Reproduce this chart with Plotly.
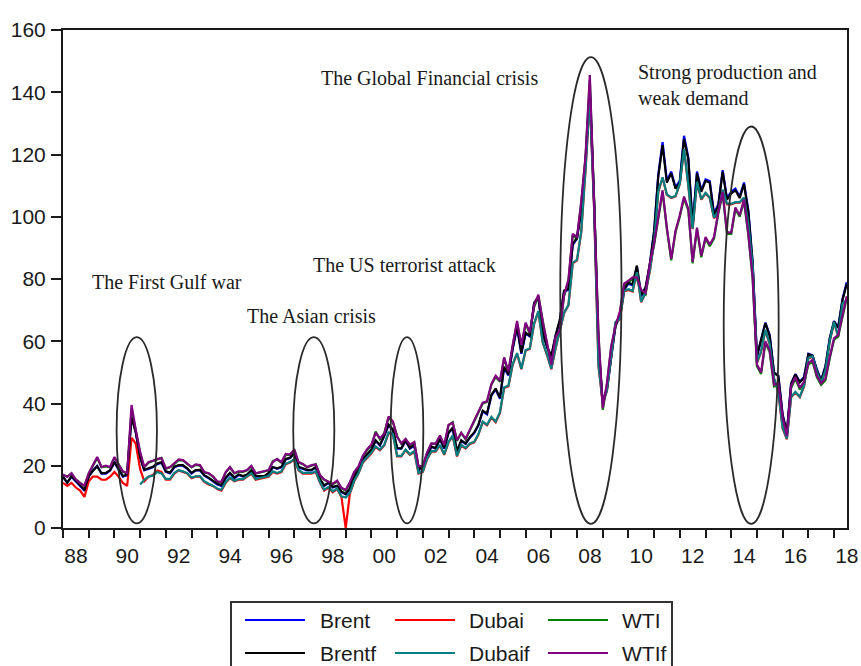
import pandas as pd
import plotly.graph_objects as go

# ---------------- data (bi-monthly readings: Jan, Mar, May, Jul, Sep, Nov) ----------------
dates = pd.date_range("1988-01-01", "2018-07-01", freq="2MS")

brent = [
    16.5, 14.5, 16.5, 15.0, 13.5, 12.0,   # 1988
    16.5, 18.5, 20.0, 17.5, 17.5, 18.5,   # 1989
    21.0, 19.0, 16.5, 17.0, 36.0, 30.5,   # 1990
    22.5, 18.5, 19.0, 19.5, 20.5, 21.0,   # 1991
    18.0, 17.5, 19.5, 20.0, 20.0, 19.0,   # 1992
    17.5, 18.5, 18.5, 16.8, 16.0, 15.0,   # 1993
    14.0, 13.5, 16.0, 17.5, 16.0, 17.0,   # 1994
    16.5, 17.0, 18.5, 16.5, 16.5, 16.5,   # 1995
    17.5, 19.5, 19.0, 19.5, 22.0, 22.5,   # 1996
    24.0, 19.5, 19.0, 18.5, 18.5, 19.5,   # 1997
    15.5, 13.5, 14.5, 13.0, 13.5, 11.5,   # 1998
    10.8, 12.5, 16.5, 18.5, 22.0, 23.5,   # 1999
    25.0, 28.0, 26.5, 29.5, 33.0, 31.5,   # 2000
    25.5, 25.5, 28.0, 25.5, 26.5, 18.5,   # 2001
    19.5, 23.0, 26.0, 25.5, 28.5, 25.5,   # 2002
    30.5, 32.0, 24.5, 28.0, 27.0, 29.0,   # 2003
    30.5, 33.0, 37.5, 36.5, 42.5, 44.5,   # 2004
    41.5, 51.5, 49.0, 57.5, 64.5, 56.0,   # 2005
    62.5, 61.5, 72.0, 74.0, 62.5, 58.0,   # 2006
    55.0, 61.5, 66.5, 76.0, 76.5, 91.0,   # 2007
    93.0, 102.0, 117.5, 141.0, 104.0, 58.0,  # 2008
    40.0, 44.5, 54.5, 65.0, 68.0, 76.5,   # 2009
    78.5, 78.0, 84.0, 74.5, 77.0, 84.5,   # 2010
    95.5, 113.5, 124.0, 111.5, 114.5, 109.5,  # 2011
    111.5, 126.0, 119.0, 97.5, 114.5, 108.5,  # 2012
    112.0, 111.5, 101.0, 104.0, 115.0, 106.0,  # 2013
    108.0, 109.0, 106.5, 111.0, 102.0, 85.5,  # 2014
    55.0, 60.5, 66.0, 62.0, 50.0, 49.0,   # 2015
    36.5, 30.5, 46.5, 49.5, 47.0, 48.5,   # 2016
    56.0, 55.5, 51.0, 47.5, 52.0, 61.0,   # 2017
    66.5, 64.5, 73.5, 79.0,               # 2018
]

dubai = [
    14.5, 13.5, 14.5, 13.0, 12.0, 10.0,   # 1988
    15.0, 16.5, 16.5, 15.5, 15.5, 16.5,   # 1989
    18.0, 16.5, 14.5, 13.5, 29.0, 27.0,   # 1990
    19.0, 15.0, 16.5, 17.0, 18.5, 18.0,   # 1991
    15.5, 15.5, 17.5, 18.5, 18.0, 17.5,   # 1992
    16.0, 16.5, 16.5, 14.8, 14.0, 13.5,   # 1993
    12.5, 12.0, 14.5, 16.0, 15.0, 15.5,   # 1994
    15.5, 16.5, 17.5, 15.5, 15.8, 16.0,   # 1995
    16.5, 18.0, 17.5, 18.0, 20.5, 21.0,   # 1996
    22.0, 18.5, 17.5, 17.5, 17.5, 18.0,   # 1997
    14.5, 12.0, 13.0, 11.5, 12.5, 10.0,   # 1998
    0.0, 11.0, 15.0, 17.5, 21.0, 22.5,    # 1999
    24.0, 26.0, 25.0, 26.5, 30.5, 30.0,   # 2000
    23.0, 23.0, 25.0, 23.5, 24.5, 17.5,   # 2001
    18.0, 22.0, 24.5, 24.5, 26.5, 23.5,   # 2002
    27.5, 29.5, 23.0, 26.5, 25.5, 27.0,   # 2003
    27.5, 30.0, 34.0, 33.0, 35.5, 34.0,   # 2004
    37.0, 45.0, 45.5, 52.5, 56.0, 51.0,   # 2005
    57.0, 57.5, 65.5, 69.5, 59.5, 55.5,   # 2006
    51.0, 57.5, 63.0, 69.0, 71.5, 85.0,   # 2007
    86.0, 95.0, 115.0, 138.0, 102.0, 52.0,  # 2008
    40.0, 44.0, 55.0, 66.0, 67.0, 76.0,   # 2009
    76.5, 76.0, 82.0, 72.5, 75.5, 82.5,   # 2010
    92.0, 108.0, 112.5, 107.0, 106.0, 106.5,  # 2011
    110.5, 121.5, 110.0, 96.0, 111.0, 105.5,  # 2012
    107.5, 106.0, 99.5, 101.5, 108.5, 104.0,  # 2013
    104.0, 104.5, 104.5, 106.0, 97.5, 84.0,  # 2014
    53.0, 56.5, 63.5, 59.0, 48.0, 43.5,   # 2015
    32.0, 28.5, 42.0, 43.5, 42.0, 45.5,   # 2016
    54.5, 55.0, 50.0, 46.5, 50.5, 60.0,   # 2017
    66.0, 61.5, 72.0, 73.0,               # 2018
]

wti = [
    17.0, 16.5, 17.5, 15.5, 14.5, 13.5,   # 1988
    17.5, 20.0, 22.5, 19.5, 19.8, 19.5,   # 1989
    22.5, 20.5, 18.0, 17.5, 38.0, 31.0,   # 1990
    24.0, 19.5, 21.0, 21.5, 22.0, 22.5,   # 1991
    19.0, 19.5, 20.5, 21.8, 21.7, 20.5,   # 1992
    19.5, 20.3, 20.0, 17.8, 17.5, 16.5,   # 1993
    14.8, 14.6, 17.8, 19.5, 17.5, 18.0,   # 1994
    18.0, 18.5, 19.8, 17.5, 17.8, 18.0,   # 1995
    18.5, 21.5, 22.0, 21.0, 23.5, 23.5,   # 1996
    25.0, 21.0, 20.5, 19.5, 20.0, 20.5,   # 1997
    16.8, 15.5, 14.8, 14.0, 15.0, 12.8,   # 1998
    12.0, 14.5, 17.8, 19.5, 23.0, 25.0,   # 1999
    26.5, 31.0, 28.5, 30.5, 35.5, 34.0,   # 2000
    29.5, 27.0, 28.5, 26.5, 27.5, 19.5,   # 2001
    19.8, 24.0, 27.0, 27.0, 29.5, 26.5,   # 2002
    33.0, 34.0, 28.0, 30.5, 28.5, 31.5,   # 2003
    34.5, 37.0, 40.0, 40.5, 46.0, 48.5,   # 2004
    47.0, 54.5, 50.0, 58.5, 66.0, 58.5,   # 2005
    65.5, 62.5, 71.0, 74.5, 66.0, 59.0,   # 2006
    52.0, 61.0, 63.0, 74.5, 79.5, 94.0,   # 2007
    93.0, 104.5, 119.0, 144.0, 105.0, 62.0,  # 2008
    38.0, 46.0, 58.0, 64.5, 69.0, 78.0,   # 2009
    79.0, 80.0, 80.0, 76.0, 75.0, 84.5,   # 2010
    91.0, 100.0, 108.0, 96.0, 86.0, 95.0,  # 2011
    100.0, 106.0, 102.0, 85.0, 96.0, 87.0,  # 2012
    93.0, 90.5, 93.0, 101.0, 107.5, 94.5,  # 2013
    94.5, 102.5, 100.0, 105.0, 94.0, 80.0,  # 2014
    52.0, 49.5, 59.5, 56.5, 45.5, 46.0,   # 2015
    35.0, 29.0, 45.0, 48.0, 44.5, 46.5,   # 2016
    52.5, 53.5, 48.5, 46.0, 47.5, 54.5,   # 2017
    60.5, 61.5, 68.0, 74.0,               # 2018
]

brentf = [
    16.4, 14.6, 16.6, 15.1, 13.6, 12.3,   # 1988
    16.6, 18.4, 19.8, 17.6, 17.7, 18.6,   # 1989
    21.2, 19.1, 16.7, 17.2, 35.5, 30.8,   # 1990
    22.8, 18.7, 19.2, 19.7, 20.7, 21.2,   # 1991
    18.2, 17.8, 19.7, 20.2, 20.2, 19.2,   # 1992
    17.7, 18.6, 18.7, 17.0, 16.2, 15.2,   # 1993
    14.2, 13.8, 16.2, 17.7, 16.2, 17.2,   # 1994
    16.7, 17.2, 18.6, 16.7, 16.7, 16.7,   # 1995
    17.7, 19.6, 19.2, 19.7, 22.2, 22.6,   # 1996
    24.2, 19.7, 19.2, 18.7, 18.7, 19.6,   # 1997
    15.7, 13.7, 14.6, 13.2, 13.6, 11.7,   # 1998
    11.0, 12.7, 16.7, 18.7, 22.2, 23.6,   # 1999
    25.2, 28.2, 26.7, 29.6, 33.2, 31.7,   # 2000
    25.7, 25.6, 28.2, 25.7, 26.7, 18.8,   # 2001
    19.7, 23.2, 26.2, 25.7, 28.7, 25.7,   # 2002
    30.7, 32.2, 24.7, 28.2, 27.2, 29.2,   # 2003
    30.7, 33.2, 37.7, 36.8, 42.8, 44.8,   # 2004
    41.8, 51.8, 49.3, 57.8, 64.8, 56.3,   # 2005
    62.8, 61.8, 72.3, 74.3, 62.8, 58.3,   # 2006
    55.3, 61.8, 66.8, 76.3, 76.8, 91.3,   # 2007
    93.3, 102.3, 117.8, 140.5, 104.3, 58.3,  # 2008
    40.3, 44.8, 54.8, 65.3, 68.3, 76.8,   # 2009
    78.8, 78.3, 84.3, 74.8, 77.3, 84.8,   # 2010
    95.2, 113.0, 123.0, 111.0, 114.0, 109.0,  # 2011
    111.0, 125.0, 118.5, 97.0, 114.0, 108.0,  # 2012
    111.5, 111.0, 100.5, 103.5, 114.5, 105.5,  # 2013
    107.5, 108.5, 106.0, 110.5, 101.5, 85.0,  # 2014
    55.3, 60.3, 65.8, 61.8, 49.8, 48.8,   # 2015
    36.3, 30.8, 46.3, 49.3, 46.8, 48.3,   # 2016
    55.8, 55.3, 50.8, 47.3, 51.8, 60.8,   # 2017
    66.3, 64.3, 73.3, 78.5,               # 2018
]

dubaif = [
    None, None, None, None, None, None,   # 1988
    None, None, None, None, None, None,   # 1989
    None, None, None, None, None, None,   # 1990
    14.0, 15.5, 16.5, 16.8, 18.0, 17.5,   # 1991
    15.8, 15.8, 17.7, 18.6, 18.2, 17.6,   # 1992
    16.2, 16.6, 16.7, 15.0, 14.2, 13.6,   # 1993
    12.7, 12.3, 14.7, 16.2, 15.2, 15.7,   # 1994
    15.7, 16.6, 17.6, 15.7, 16.0, 16.2,   # 1995
    16.7, 18.2, 17.7, 18.2, 20.7, 21.2,   # 1996
    22.2, 18.7, 17.7, 17.7, 17.7, 18.2,   # 1997
    14.7, 12.3, 13.2, 11.8, 12.7, 10.2,   # 1998
    9.8, 11.3, 15.2, 17.7, 21.2, 22.7,    # 1999
    24.2, 26.2, 25.2, 26.7, 30.7, 30.2,   # 2000
    23.2, 23.2, 25.2, 23.7, 24.7, 17.7,   # 2001
    18.2, 22.2, 24.7, 24.7, 26.7, 23.7,   # 2002
    27.7, 29.7, 23.2, 26.7, 25.7, 27.2,   # 2003
    27.7, 30.2, 34.2, 33.2, 35.7, 34.2,   # 2004
    37.2, 45.2, 45.7, 52.7, 56.2, 51.2,   # 2005
    57.2, 57.7, 65.7, 69.7, 59.7, 55.7,   # 2006
    51.2, 57.7, 63.2, 69.2, 71.7, 85.2,   # 2007
    86.2, 95.2, 115.2, 138.5, 102.2, 52.5,  # 2008
    40.2, 44.2, 55.2, 66.2, 67.2, 76.2,   # 2009
    76.7, 76.2, 82.2, 72.7, 75.7, 82.7,   # 2010
    92.2, 108.2, 112.7, 107.2, 106.2, 106.7,  # 2011
    110.7, 121.7, 110.2, 96.2, 111.2, 105.7,  # 2012
    107.7, 106.2, 99.7, 101.7, 108.7, 104.2,  # 2013
    104.2, 104.7, 104.7, 106.2, 97.7, 84.2,  # 2014
    53.2, 56.7, 63.7, 59.2, 48.2, 43.7,   # 2015
    32.2, 28.7, 42.2, 43.7, 42.2, 45.7,   # 2016
    54.7, 55.2, 50.2, 46.7, 50.7, 60.2,   # 2017
    66.2, 61.7, 72.2, 73.2,               # 2018
]

wtif = [
    17.2, 16.4, 17.6, 15.6, 14.4, 13.6,   # 1988
    17.6, 20.2, 22.8, 19.6, 20.0, 19.6,   # 1989
    22.8, 20.4, 18.2, 17.6, 39.5, 31.5,   # 1990
    24.5, 19.6, 21.2, 21.6, 22.2, 22.4,   # 1991
    19.2, 19.6, 20.8, 22.0, 21.8, 20.6,   # 1992
    19.6, 20.4, 20.2, 18.0, 17.6, 16.6,   # 1993
    15.0, 14.8, 18.0, 19.6, 17.6, 18.2,   # 1994
    18.2, 18.6, 20.0, 17.6, 17.9, 18.2,   # 1995
    18.6, 21.2, 22.2, 21.2, 23.8, 23.6,   # 1996
    25.2, 21.2, 20.6, 19.6, 20.2, 20.4,   # 1997
    17.0, 15.6, 15.0, 14.2, 15.2, 12.9,   # 1998
    12.2, 14.7, 18.0, 19.8, 23.2, 25.3,   # 1999
    26.8, 30.6, 28.8, 30.2, 35.8, 34.3,   # 2000
    29.2, 27.2, 28.6, 26.8, 27.6, 19.8,   # 2001
    20.0, 24.2, 27.2, 27.1, 29.7, 26.7,   # 2002
    33.2, 33.8, 28.2, 30.6, 28.7, 31.7,   # 2003
    34.7, 37.2, 40.3, 40.7, 46.3, 48.9,   # 2004
    47.3, 54.8, 50.3, 58.8, 66.5, 58.8,   # 2005
    66.0, 62.8, 71.5, 75.0, 66.3, 59.5,   # 2006
    52.5, 61.3, 63.5, 74.8, 79.8, 94.5,   # 2007
    93.5, 104.8, 119.5, 145.5, 105.5, 62.5,  # 2008
    38.5, 46.5, 58.5, 65.0, 69.5, 78.5,   # 2009
    79.5, 80.5, 80.5, 76.5, 75.5, 85.0,   # 2010
    91.5, 100.5, 108.5, 96.5, 86.5, 95.5,  # 2011
    100.5, 106.5, 102.5, 85.5, 96.5, 87.5,  # 2012
    93.5, 91.0, 93.5, 101.5, 108.0, 95.0,  # 2013
    95.0, 103.0, 100.5, 105.5, 94.5, 80.5,  # 2014
    52.5, 50.0, 60.0, 57.0, 46.0, 46.5,   # 2015
    35.5, 29.5, 45.5, 48.5, 45.0, 47.0,   # 2016
    53.0, 54.0, 49.0, 46.5, 48.0, 55.0,   # 2017
    61.0, 62.0, 68.5, 74.5,               # 2018
]

series_names = ["Brent", "Dubai", "WTI", "Brentf", "Dubaif", "WTIf"]
series_values = [brent, dubai, wti, brentf, dubaif, wtif]
series_colors = ["#0000FF", "#FF0000", "#008000", "#000000", "#008080", "#800080"]

tick_years = list(range(1988, 2019, 2))
tick_labels = [f"{y % 100:02d}" for y in tick_years]

events = ["The First Gulf war", "The Asian crisis", "The US terrorist attack",
          "The Global Financial crisis", "Strong production and<br>weak demand"]

# ---------------- figure ----------------
W, H = 861, 666
L, R, T, B = 63, 14, 30, 138
PW, PH = W - L - R, H - T - B


def px(x):
    return (x - L) / PW


def py(y):
    return (H - B - y) / PH


fig = go.Figure()
for name, vals, col in zip(series_names, series_values, series_colors):
    fig.add_trace(go.Scatter(x=dates, y=vals, name=name, mode="lines",
                             line=dict(color=col, width=2.2), showlegend=False))

axis_col = "#1a1a1a"
fig.update_layout(
    width=W, height=H,
    margin=dict(l=L, r=R, t=T, b=B, autoexpand=False),
    plot_bgcolor="white", paper_bgcolor="white",
    font=dict(family="Liberation Sans, Arial, sans-serif", size=21, color="#1a1a1a"),
    xaxis=dict(
        type="date", range=["1988-01-01", "2018-07-04"],
        showline=True, linecolor=axis_col, linewidth=2, mirror=True,
        showgrid=False, zeroline=False,
        tickmode="array",
        tickvals=[f"{y}-07-02" for y in tick_years], ticktext=tick_labels,
        ticks="", ticklabelstandoff=8,
        minor=dict(ticks="outside", ticklen=8, tickwidth=1.5, tickcolor=axis_col,
                   dtick="M12", tick0="1988-01-01", showgrid=False),
    ),
    yaxis=dict(
        range=[0, 160], tickmode="linear", tick0=0, dtick=20,
        showline=True, linecolor=axis_col, linewidth=2, mirror=True,
        showgrid=False, zeroline=False,
        ticks="outside", ticklen=10, tickwidth=1.5, tickcolor=axis_col,
        ticklabelstandoff=1,
    ),
)

# ellipses around the events
ellipses = [
    ("1990-02-01", "1991-08-28", 1.5, 61.3),
    ("1996-12-16", "1998-07-23", 1.5, 61.3),
    ("2000-10-01", "2002-01-08", 1.5, 61.3),
    ("2007-05-08", "2009-09-24", 1.3, 151.3),
    ("2013-09-16", "2015-11-06", 1.3, 129.0),
]
for x0, x1, y0, y1 in ellipses:
    fig.add_shape(type="circle", xref="x", yref="y", x0=x0, x1=x1, y0=y0, y1=y1,
                  line=dict(color="#2a2a2a", width=1.8), layer="above")

# event labels
label_pos = [(90, 282), (245, 316), (311, 265), (319, 78), (636, 85)]
for txt, (lx, ly) in zip(events, label_pos):
    fig.add_annotation(text=txt, xref="paper", yref="paper", x=px(lx), y=py(ly),
                       xanchor="left", yanchor="middle", showarrow=False, align="left",
                       font=dict(family="Liberation Serif, Times New Roman, serif",
                                 size=20, color="#1a1a1a"))

# legend box (drawn) -----------------------------------------------------
fig.add_shape(type="rect", xref="paper", yref="paper",
              x0=px(231), x1=px(672), y0=py(602), y1=py(672),
              line=dict(color="#333333", width=2), fillcolor="rgba(0,0,0,0)")
legend_cols = [(245, 305, 318), (395, 455, 467), (548, 608, 620)]
legend_rows = [620, 653]
for i, (name, col) in enumerate(zip(series_names, series_colors)):
    r, c = divmod(i, 3)
    x0, x1, tx = legend_cols[c]
    yy = legend_rows[r]
    fig.add_shape(type="line", xref="paper", yref="paper",
                  x0=px(x0), x1=px(x1), y0=py(yy), y1=py(yy),
                  line=dict(color=col, width=2))
    fig.add_annotation(text=name, xref="paper", yref="paper",
                       x=px(tx), y=py(yy), xanchor="left", yanchor="middle",
                       showarrow=False, font=dict(size=21, color="#1a1a1a"))

fig.write_html("out.html",
               config={"displayModeBar": False},
               post_script="document.body.style.margin='0';"
                           "document.body.style.overflow='hidden';")
